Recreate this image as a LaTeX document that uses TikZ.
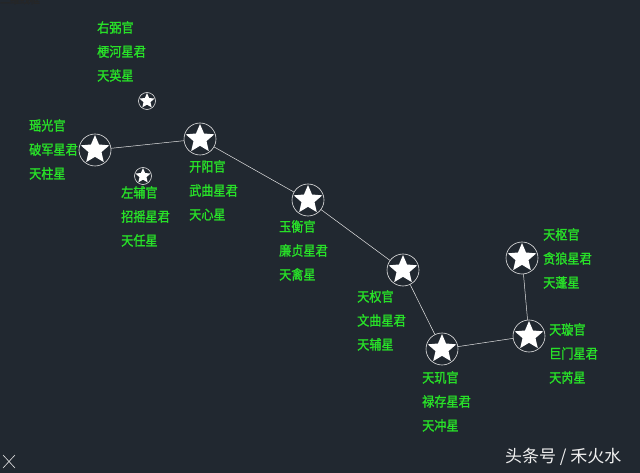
\documentclass[tikz,border=0pt]{standalone}
\usepackage{fontspec}
\newfontfamily\cjk[FakeStretch=0.9,FakeBold=1.3]{Noto Sans CJK SC}
\newfontfamily\markfont{Noto Sans CJK SC}
\usetikzlibrary{shapes.geometric, positioning}
\definecolor{cadbg}{RGB}{33,40,48}
\definecolor{cadgreen}{RGB}{40,225,40}
\definecolor{cadline}{RGB}{228,228,228}
\tikzset{starcore/.style={star,star points=5,star point ratio=2.2,fill=white,inner sep=0pt}}
\tikzset{bigstar/.style={circle,draw=cadline,line width=0.6pt,minimum size=32pt,inner sep=0pt,
  path picture={\node[starcore,minimum size=30pt] at (path picture bounding box.center) {};}}}
\tikzset{smallstar/.style={circle,draw=cadline,line width=0.6pt,minimum size=17pt,inner sep=0pt,
  path picture={\node[starcore,minimum size=16pt] at (path picture bounding box.center) {};}}}
\tikzset{lbl/.style={anchor=north west,inner sep=0pt,align=left,text=cadgreen,font=\cjk\fontsize{13.5}{24}\selectfont}}
\tikzset{link/.style={draw=cadline,line width=0.5pt}}

\begin{document}
\begin{tikzpicture}[x=1pt,y=-1pt]

% Background
\useasboundingbox (0,0) rectangle (640,473);
\fill[cadbg] (0,0) rectangle (640,473);

% Define stars of the dipper
\node[bigstar] at (95,150) (yaoguang) {};
\node[bigstar] at (200,139) (kaiyang) {};
\node[bigstar] at (308,200) (yuheng) {};
\node[bigstar] at (403,270) (tianquan) {};
\node[bigstar] at (442,349) (tianji) {};
\node[bigstar] at (529,336) (tianxuan) {};
\node[bigstar] at (522,258) (tianshu) {};

% Define the two hidden stars
\node[smallstar] at (147,101) (youbi) {};
\node[smallstar] at (143,176) (zuofu) {};

% Define paths
\path[link] (yaoguang) -- (kaiyang);
\path[link] (kaiyang) -- (yuheng);
\path[link] (yuheng) -- (tianquan);
\path[link] (tianquan) -- (tianji);
\path[link] (tianji) -- (tianxuan);
\path[link] (tianxuan) -- (tianshu);

% Add some text
\node[lbl] at (97,21) (lab-youbi) {右弼官\\梗河星君\\天英星};
\node[lbl] at (29,119) (lab-yaoguang) {瑶光官\\破军星君\\天柱星};
\node[lbl] at (121,186) (lab-zuofu) {左辅官\\招摇星君\\天任星};
\node[lbl] at (189,160) (lab-kaiyang) {开阳官\\武曲星君\\天心星};
\node[lbl] at (279,220) (lab-yuheng) {玉衡官\\廉贞星君\\天禽星};
\node[lbl] at (357,290) (lab-tianquan) {天权官\\文曲星君\\天辅星};
\node[lbl] at (422,371) (lab-tianji) {天玑官\\禄存星君\\天冲星};
\node[lbl] at (549,323) (lab-tianxuan) {天璇官\\巨门星君\\天芮星};
\node[lbl] at (543,228) (lab-tianshu) {天枢官\\贪狼星君\\天蓬星};

% View title and axis mark
\node[anchor=north west,inner sep=0pt,text=black!85,font=\cjk\fontsize{11}{11}\selectfont] at (0,-6) (view) {二维线框};
\draw[cadline,line width=0.6pt] (3,455) -- (15,468) (15,455) -- (3,468);

% Watermark
\node[anchor=west,inner sep=0pt,text=white!88!gray,font=\markfont\fontsize{17}{17}\selectfont] at (505,457) (mark) {头条号 / 禾火水};
\end{tikzpicture}
\end{document}
